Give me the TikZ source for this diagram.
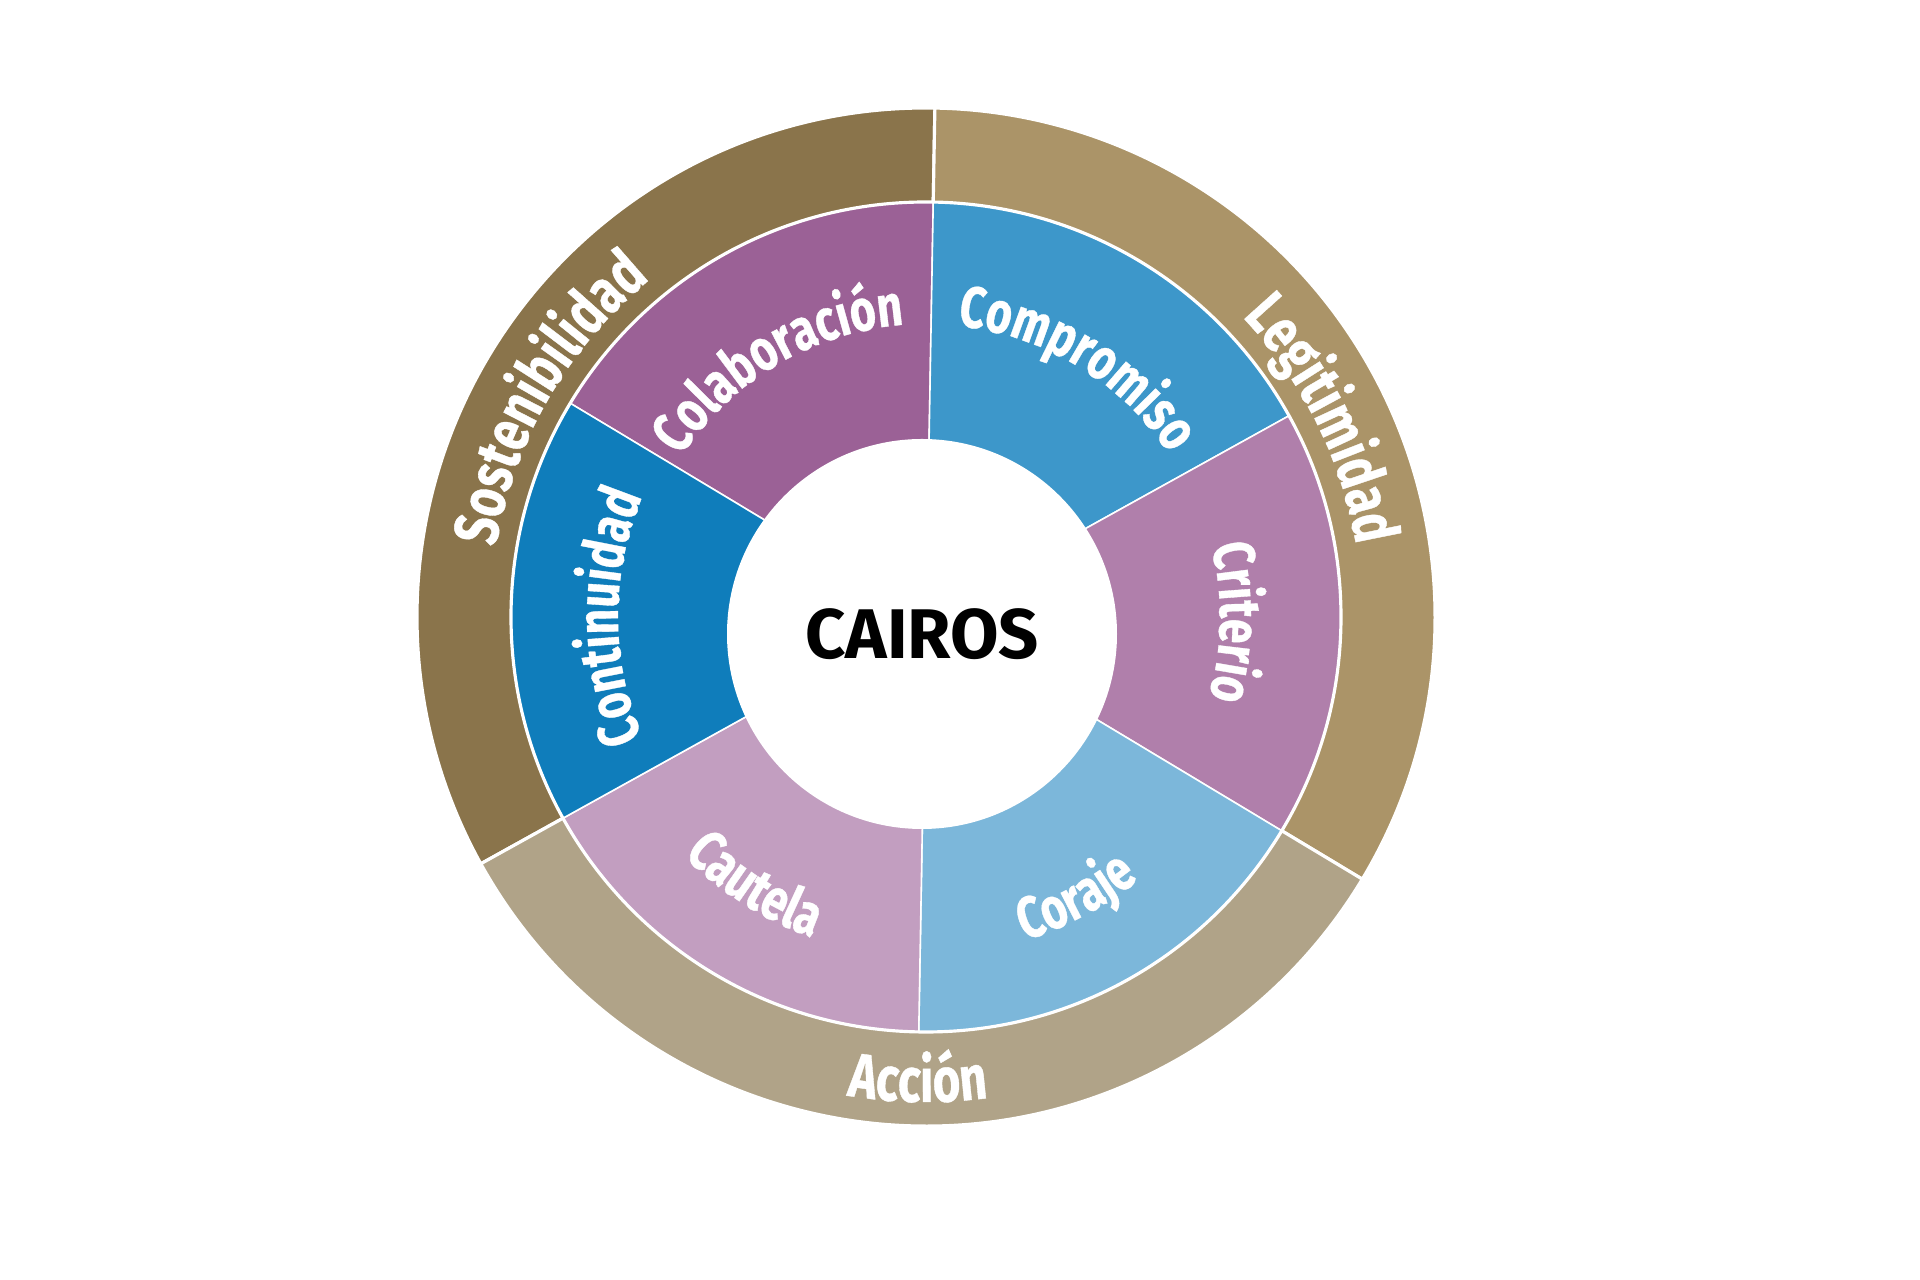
\documentclass[tikz,border=0pt]{standalone}
\usepackage{fontspec}
\setmainfont{Fira Sans}
\newfontfamily\ringfont[FakeStretch=0.76, BoldFeatures={FakeBold=0.6}]{Fira Sans}
\usetikzlibrary{decorations.text}
\definecolor{sosten}{HTML}{8A744B}
\definecolor{legit}{HTML}{AB9468}
\definecolor{accion}{HTML}{B0A388}
\definecolor{colab}{HTML}{9B6196}
\definecolor{compro}{HTML}{3D97CA}
\definecolor{criter}{HTML}{B07FAB}
\definecolor{coraje}{HTML}{7CB7DA}
\definecolor{cautel}{HTML}{C29EC0}
\definecolor{contin}{HTML}{0F7DBB}

\begin{document}
\begin{tikzpicture}[
    band/.style={draw=white, line width=0.9pt},
    sector/.style={draw=white, line width=0.45pt},
    outerlbl/.style={decorate, decoration={text along path, text align=center, text color=white,
        text={|\ringfont\bfseries\fontsize{17.8}{21}\selectfont|#1}}},
    innerlbl/.style={decorate, decoration={text along path, text align=center, text color=white,
        text={|\ringfont\bfseries\fontsize{16.6}{20}\selectfont|#1}}}
]
\useasboundingbox (-9.26,-6.63) rectangle (9.94,6.17);

\filldraw[band, fill=sosten] (0,0) -- (89:5.09) arc[start angle=89, end angle=209, radius=5.09] -- cycle;
\filldraw[band, fill=legit] (0,0) -- (-31:5.09) arc[start angle=-31, end angle=89, radius=5.09] -- cycle;
\filldraw[band, fill=accion] (0,0) -- (209:5.09) arc[start angle=209, end angle=329, radius=5.09] -- cycle;

\filldraw[sector, fill=colab] (0,0) -- (89:4.15) arc[start angle=89, end angle=149, radius=4.15] -- cycle;
\filldraw[sector, fill=compro] (0,0) -- (29:4.15) arc[start angle=29, end angle=89, radius=4.15] -- cycle;
\filldraw[sector, fill=criter] (0,0) -- (-31:4.15) arc[start angle=-31, end angle=29, radius=4.15] -- cycle;
\filldraw[sector, fill=coraje] (0,0) -- (-91:4.15) arc[start angle=-91, end angle=-31, radius=4.15] -- cycle;
\filldraw[sector, fill=cautel] (0,0) -- (-151:4.15) arc[start angle=-151, end angle=-91, radius=4.15] -- cycle;
\filldraw[sector, fill=contin] (0,0) -- (149:4.15) arc[start angle=149, end angle=209, radius=4.15] -- cycle;
\draw[band] (0,0) circle (4.15);

\coordinate (hub) at (-0.04,-0.17);
\fill[white] (hub) circle (1.95);
\node[font=\bfseries\fontsize{20}{24}\selectfont] (cairos) at (hub) {CAIROS};

\path[outerlbl=Sostenibilidad] (180:4.36) arc[start angle=180, end angle=120, radius=4.36];
\path[outerlbl=Legitimidad] (56.5:4.36) arc[start angle=56.5, end angle=-3.5, radius=4.36];
\path[outerlbl=Acción] (-121:4.85) arc[start angle=-121, end angle=-61, radius=4.85];

\path[innerlbl=Colaboración] (160.5:2.93) arc[start angle=160.5, end angle=80.5, radius=2.93];
\path[innerlbl=Compromiso] (98.8:2.93) arc[start angle=98.8, end angle=18.8, radius=2.93];
\path[innerlbl=Criterio] (39:2.94) arc[start angle=39, end angle=-41, radius=2.94];
\path[innerlbl=Continuidad] (220:3.08) arc[start angle=220, end angle=140, radius=3.08];
\path[innerlbl=Cautela] (-162.5:3.4) arc[start angle=-162.5, end angle=-82.5, radius=3.4];
\path[innerlbl=Coraje] (-102:3.38) arc[start angle=-102, end angle=-22, radius=3.38];
\end{tikzpicture}
\end{document}
